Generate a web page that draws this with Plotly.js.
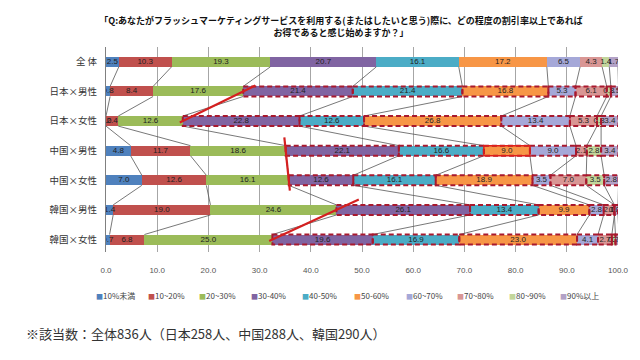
<!DOCTYPE html>
<html>
<head>
<meta charset="utf-8">
<script src="https://cdn.plot.ly/plotly-3.0.1.min.js"></script>
<style>html,body{margin:0;padding:0;background:#fff;}#chart{width:640px;height:360px;}</style>
</head>
<body>
<div id="chart"></div>
<script>
// ---- data ----
const categories = ['全 体','日本×男性','日本×女性','中国×男性','中国×女性','韓国×男性','韓国×女性'];
const seriesNames = ['10%未満','10~20%','20~30%','30-40%','40-50%','50-60%','60~70%','70~80%','80~90%','90%以上'];
const s10under = [2.5, 0.8, 0.0, 4.8, 7.0, 1.4, 0.7];
const s10to20  = [10.3, 8.4, 2.4, 11.7, 12.6, 19.0, 6.8];
const s20to30  = [19.3, 17.6, 12.6, 18.6, 16.1, 24.6, 25.0];
const s30to40  = [20.7, 21.4, 22.8, 22.1, 12.6, 26.1, 19.6];
const s40to50  = [16.1, 21.4, 12.6, 16.6, 16.1, 13.4, 16.9];
const s50to60  = [17.2, 16.8, 26.8, 9.0, 18.9, 9.9, 23.0];
const s60to70  = [6.5, 5.3, 13.4, 9.0, 3.5, 2.8, 4.1];
const s70to80  = [4.3, 6.1, 5.3, 2.1, 7.0, 2.1, 2.7];
const s80to90  = [1.4, 0.8, 0.8, 2.8, 3.5, 0.0, 0.7];
const s90up    = [1.7, 1.5, 3.4, 3.4, 2.8, 0.7, 0.7];
const xTicks = [0,10,20,30,40,50,60,70,80,90,100];
const footnote = '※該当数：全体836人（日本258人、中国288人、韓国290人）';
const titleText = '「Q:あなたがフラッシュマーケティングサービスを利用する(またはしたいと思う)際に、どの程度の割引率以上であれば<br>お得であると感じ始めますか？」';

// ---- styles ----
const colors = ['#4F81BD','#C0504D','#9BBB59','#8064A2','#4BACC6','#F79646','#A5A8D8','#D99694','#C3D69B','#B3A2C7'];
const FONT = '"Noto Sans CJK JP", "Noto Sans", sans-serif';
const barW = 0.34;

const seriesVals = [s10under,s10to20,s20to30,s30to40,s40to50,s50to60,s60to70,s70to80,s80to90,s90up];
const rows = categories.map((c,i)=>i);

// cumulative ends
const cum = seriesVals.map(()=>rows.map(()=>0));
rows.forEach(r=>{
  let acc = 0;
  seriesVals.forEach((s,i)=>{ acc += s[r]; cum[i][r] = acc; });
});
const startOf = (i,r)=> i===0 ? 0 : cum[i-1][r];

const traces = [];
seriesVals.forEach((s,i)=>{
  traces.push({type:'bar', orientation:'h', name:seriesNames[i], x:s, y:rows, width:barW,
    marker:{color:colors[i], line:{width:0}}, hoverinfo:'skip', showlegend:false});
});

// series lines (Excel-style connectors)
const slx=[], sly=[];
for (let r=0;r<rows.length-1;r++){
  for (let i=0;i<seriesVals.length;i++){
    slx.push(cum[i][r], cum[i][r+1], null);
    sly.push(r+barW/2, r+1-barW/2, null);
  }
}
traces.push({type:'scatter', mode:'lines', x:slx, y:sly, line:{color:'#555', width:0.8},
  hoverinfo:'skip', showlegend:false});

// data labels
const lx=[], ly=[], lt=[];
seriesVals.forEach((s,i)=>{
  rows.forEach(r=>{ lx.push(startOf(i,r)+s[r]/2); ly.push(r); lt.push(s[r].toFixed(1)); });
});
traces.push({type:'scatter', mode:'text', x:lx, y:ly, text:lt, textposition:'middle center',
  textfont:{family:'"Liberation Sans", Arial, sans-serif', size:8, color:'#222'},
  hoverinfo:'skip', showlegend:false});

// shapes: dashed outlines on segments >=30% for each subgroup row
const shapes = [];
for (let r=1;r<rows.length;r++){
  for (let i=3;i<seriesVals.length;i++){
    shapes.push({type:'rect', xref:'x', yref:'y', x0:startOf(i,r), x1:cum[i][r],
      y0:r-barW/2, y1:r+barW/2, line:{color:'#A8192E', width:2, dash:'5px,3px'}, layer:'above'});
  }
}
// solid red highlight box on 中国×男性 50-60%
shapes.push({type:'rect', xref:'x', yref:'y', x0:startOf(5,3), x1:cum[5][3],
  y0:3-barW/2, y1:3+barW/2, line:{color:'#E0201A', width:1.5}, layer:'above'});

// red hand-drawn comparison lines between gender pairs at the 20-30% boundary
const pairs = [[1,2,-0.2,1.05],[3,4,-0.45,1.35],[5,6,-0.35,1.05]];
pairs.forEach(p=>{
  const [a,b,t0,t1] = p;
  const xa = cum[2][a], xb = cum[2][b];
  shapes.push({type:'line', xref:'x', yref:'y',
    x0: xa+(xb-xa)*t0, y0: a+t0, x1: xa+(xb-xa)*t1, y1: a+t1,
    line:{color:'#D42020', width:2.2}, layer:'above'});
});

// legend (custom, compact like the original)
const annotations = [];
const plotL = 106, plotW = 512, plotB = 252, plotH = 205;
seriesNames.forEach((n,i)=>{
  const px = 94 + i*51.6;
  annotations.push({xref:'paper', yref:'paper', x:(px-plotL)/plotW, y:(plotB-295)/plotH,
    xanchor:'left', yanchor:'middle', showarrow:false,
    text:'<span style="color:'+colors[i]+';font-size:7px">■</span>'+n,
    font:{family:FONT, size:8, color:'#444'}});
});
annotations.push({xref:'paper', yref:'paper', x:(24-plotL)/plotW, y:(plotB-333)/plotH,
  xanchor:'left', yanchor:'middle', showarrow:false, text:footnote,
  font:{family:FONT, size:13, color:'#333'}});

const layout = {
  width:640, height:360,
  margin:{l:plotL, r:640-plotL-plotW, t:47, b:360-47-plotH},
  paper_bgcolor:'#fff', plot_bgcolor:'#fff',
  barmode:'stack', showlegend:false,
  font:{family:FONT, color:'#333'},
  title:{text:titleText, x:341/640, xanchor:'center', xref:'container', y:1-24/360, yref:'container', yanchor:'middle',
    font:{family:FONT, size:9, weight:'bold', color:'#111'}},
  xaxis:{range:[0,100], tickvals:xTicks, ticktext:xTicks.map(v=>v.toFixed(1)),
    showgrid:true, gridcolor:'#A6A6A6', gridwidth:1, zeroline:false, showline:false,
    ticks:'', ticklabelstandoff:12, tickfont:{family:'"Liberation Sans", Arial, sans-serif', size:8, color:'#555'},
    fixedrange:true},
  yaxis:{range:[6.42,-0.5], tickvals:rows, ticktext:categories, showgrid:false, zeroline:false,
    showline:true, linecolor:'#808080', linewidth:1, ticks:'', ticklabelstandoff:6,
    tickfont:{family:FONT, size:9.5, color:'#333'}, fixedrange:true},
  shapes:shapes,
  annotations:annotations
};

Plotly.newPlot('chart', traces, layout, {staticPlot:true, displayModeBar:false});
</script>
</body>
</html>
